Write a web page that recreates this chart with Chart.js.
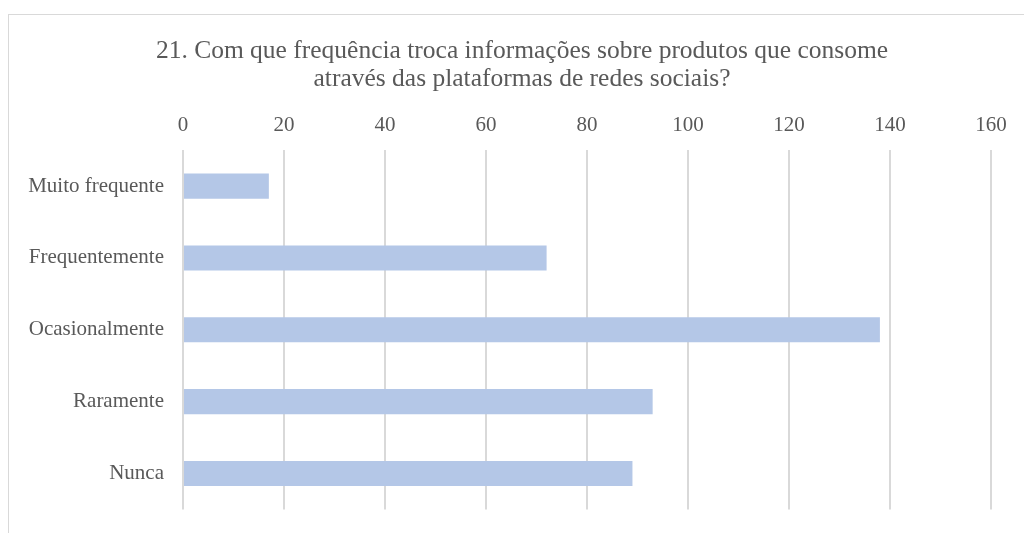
<!DOCTYPE html>
<html>
<head>
<meta charset="utf-8">
<script src="https://cdn.jsdelivr.net/npm/chart.js@4.4.0/dist/chart.umd.min.js"></script>
<style>
  html, body { margin: 0; padding: 0; background: #fff; overflow: hidden; }
  #wrap { position: relative; width: 1024px; height: 533px; }
  #frame { position: absolute; left: 8px; top: 14px; width: 1100px; height: 600px;
           border: 1.5px solid #d9d9d9; box-sizing: border-box; }
  canvas { position: absolute; left: 0; top: 0; }
</style>
</head>
<body>
<div id="wrap">
  <div id="frame"></div>
  <canvas id="chart" width="1024" height="533"></canvas>
</div>
<script>
// Respostas por frequência
var categories = ["Muito frequente", "Frequentemente", "Ocasionalmente", "Raramente", "Nunca"];
var counts = [17, 72, 138, 93, 89];
var titleLines = [
  "21. Com que frequência troca informações sobre produtos que consome",
  "através das plataformas de redes sociais?"
];

var textColor = "#595959";
var serif = "'Liberation Serif', 'Times New Roman', serif";

// title centred over the whole frame, not only the plot area
var frameTitle = {
  id: "frameTitle",
  afterDraw: function (chart) {
    var c = chart.ctx;
    c.save();
    c.fillStyle = textColor;
    c.font = "25.5px " + serif;
    c.textAlign = "center";
    c.textBaseline = "middle";
    titleLines.forEach(function (line, i) {
      c.fillText(line, 522, 51 + i * 28.5);
    });
    c.restore();
  }
};

var ctx = document.getElementById("chart").getContext("2d");

new Chart(ctx, {
  type: "bar",
  data: {
    labels: categories,
    datasets: [{
      data: counts,
      backgroundColor: "#b4c7e7",
      borderWidth: 0,
      categoryPercentage: 1,
      barPercentage: 0.35
    }]
  },
  options: {
    indexAxis: "y",
    responsive: false,
    animation: false,
    layout: { padding: { left: 0, right: 33, top: 101, bottom: -2 } },
    plugins: {
      legend: { display: false },
      tooltip: { enabled: false },
      title: { display: false }
    },
    scales: {
      x: {
        position: "top",
        min: 0,
        max: 160,
        ticks: {
          stepSize: 20,
          color: textColor,
          font: { family: serif, size: 21 },
          padding: 12
        },
        grid: { color: "#d9d9d9", lineWidth: 2, drawTicks: false },
        border: { display: false }
      },
      y: {
        ticks: {
          color: textColor,
          font: { family: serif, size: 21 },
          padding: 11
        },
        grid: { display: false },
        border: { display: false },
        afterFit: function (scale) { scale.width = 183; }
      }
    }
  },
  plugins: [frameTitle]
});
</script>
</body>
</html>
